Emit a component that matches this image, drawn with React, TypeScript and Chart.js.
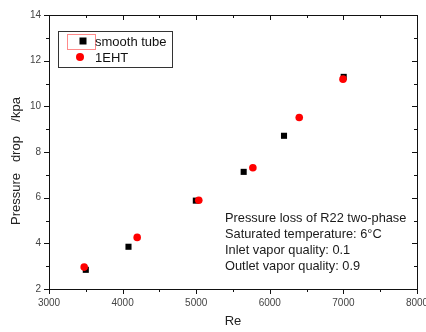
import React, { useEffect, useRef } from 'react';
import { Chart, registerables } from 'chart.js';

Chart.register(...registerables);

// ---- data ----
const seriesNames = ['smooth tube', '1EHT'];
const smoothRe = [3500, 4080, 4995, 5645, 6193, 7004];
const smoothDrop = [2.84, 3.85, 5.87, 7.13, 8.71, 11.29];
const ehtRe = [3478, 4198, 5035, 5770, 6400, 6995];
const ehtDrop = [2.96, 4.26, 5.89, 7.31, 9.51, 11.19];
const xMin = 3000;
const xMax = 8000;
const xMajor = 1000;
const xMinor = 500;
const yMin = 2;
const yMax = 14;
const yMajor = 2;
const yMinor = 1;
const xTitle = 'Re';
const yTitle = 'Pressure   drop    /kpa     ';
const noteLines = [
  'Pressure loss of R22 two-phase',
  'Saturated temperature: 6\u00B0C',
  'Inlet vapor quality: 0.1',
  'Outlet vapor quality: 0.9',
];

const FONT = '"Liberation Sans", Arial, sans-serif';

const framePlugin = {
  id: 'frameTicks',
  afterDraw(chart: any) {
    const { ctx, chartArea } = chart;
    const { left, right, top, bottom } = chartArea;
    const xs = chart.scales.x;
    const ys = chart.scales.y;
    ctx.save();
    ctx.strokeStyle = '#111';
    ctx.lineWidth = 1;
    ctx.beginPath();
    ctx.rect(Math.round(left) + 0.5, Math.round(top) + 0.5, Math.round(right - left), Math.round(bottom - top));
    ctx.stroke();
    ctx.beginPath();
    for (let v = xMin; v <= xMax + 1e-9; v += xMinor) {
      const major = Math.abs(v / xMajor - Math.round(v / xMajor)) < 1e-9;
      const px = Math.round(xs.getPixelForValue(v)) + 0.5;
      const lenOut = major ? 5 : 3;
      const lenIn = major ? 5 : 3;
      ctx.moveTo(px, bottom);
      ctx.lineTo(px, bottom + lenOut);
      ctx.moveTo(px, top);
      ctx.lineTo(px, top + lenIn);
    }
    for (let v = yMin; v <= yMax + 1e-9; v += yMinor) {
      const major = Math.abs(v / yMajor - Math.round(v / yMajor)) < 1e-9;
      const py = Math.round(ys.getPixelForValue(v)) + 0.5;
      const lenOut = major ? 5 : 3;
      const lenIn = major ? 5 : 3;
      ctx.moveTo(left, py);
      ctx.lineTo(left - lenOut, py);
      ctx.moveTo(right, py);
      ctx.lineTo(right - lenIn, py);
    }
    ctx.stroke();

    // legend
    const lx = left + 9;
    const ly = top + 16;
    ctx.strokeStyle = '#333';
    ctx.strokeRect(Math.round(lx) + 0.5, Math.round(ly) + 0.5, 114, 36);
    ctx.strokeStyle = '#ff8a8a';
    ctx.strokeRect(Math.round(lx + 9) + 0.5, Math.round(ly + 3) + 0.5, 28, 15);
    const ds = chart.data.datasets;
    const rowY = [ly + 10, ly + 26];
    ds.forEach((d: any, i: number) => {
      ctx.fillStyle = d.backgroundColor;
      const cx = lx + (i === 0 ? 25 : 22);
      if (d.pointStyle === 'rect') {
        ctx.fillRect(cx - 3.5, rowY[i] - 3.5, 7, 7);
      } else {
        ctx.beginPath();
        ctx.arc(cx, rowY[i], 4, 0, Math.PI * 2);
        ctx.fill();
      }
      ctx.fillStyle = '#111';
      ctx.font = '13px ' + FONT;
      ctx.textBaseline = 'middle';
      ctx.textAlign = 'left';
      ctx.fillText(d.label, lx + 37, rowY[i] + 1);
    });

    // note text
    ctx.fillStyle = '#1a1a1a';
    ctx.font = '12.8px ' + FONT;
    ctx.textBaseline = 'middle';
    const nx = left + 176;
    noteLines.forEach((t, i) => {
      ctx.fillText(t, nx, top + 203 + i * 16);
    });
    ctx.restore();
  },
};

export default function App() {
  const ref = useRef<HTMLCanvasElement>(null);
  useEffect(() => {
    document.body.style.margin = '0';
    const chart = new Chart(ref.current as HTMLCanvasElement, {
      type: 'scatter',
      data: {
        datasets: [
          {
            label: seriesNames[0],
            data: smoothRe.map((x, i) => ({ x, y: smoothDrop[i] })),
            backgroundColor: '#000000',
            borderColor: '#000000',
            pointStyle: 'rect',
            pointRadius: 4.3,
            borderWidth: 0,
            order: 2,
          },
          {
            label: seriesNames[1],
            data: ehtRe.map((x, i) => ({ x, y: ehtDrop[i] })),
            backgroundColor: '#ff0000',
            borderColor: '#ff0000',
            pointStyle: 'circle',
            pointRadius: 3.8,
            borderWidth: 0,
            order: 1,
          },
        ] as any,
      },
      options: {
        responsive: false,
        animation: false,
        layout: { padding: { left: 0, top: 15, right: 9, bottom: 0 } },
        plugins: {
          legend: { display: false },
          tooltip: { enabled: false },
        },
        scales: {
          x: {
            type: 'linear',
            min: xMin,
            max: xMax,
            grid: { display: false, drawTicks: false },
            border: { display: false },
            ticks: {
              stepSize: xMajor,
              color: '#444',
              font: { family: FONT, size: 10 },
              padding: 8,
              maxRotation: 0,
              autoSkip: false,
              callback: (v: any) => String(v),
            },
            title: {
              display: true,
              text: xTitle,
              color: '#222',
              font: { family: FONT, size: 13 },
              padding: { top: 0, bottom: 3 },
            },
            afterFit(s: any) {
              s.height = 43;
              s.paddingLeft = 0;
              s.paddingRight = 0;
            },
          },
          y: {
            type: 'linear',
            min: yMin,
            max: yMax,
            grid: { display: false, drawTicks: false },
            border: { display: false },
            ticks: {
              stepSize: yMajor,
              color: '#444',
              font: { family: FONT, size: 10 },
              padding: 8,
              callback: (v: any) => String(v),
            },
            title: {
              display: true,
              text: yTitle,
              color: '#222',
              font: { family: FONT, size: 13 },
              padding: { top: 9, bottom: 0 },
            },
            afterFit(s: any) {
              s.width = 49;
              s.paddingTop = 0;
              s.paddingBottom = 0;
            },
          },
        },
      } as any,
      plugins: [framePlugin],
    });
    return () => chart.destroy();
  }, []);
  return (
    <div style={{ position: 'absolute', left: 0, top: 0, width: 426, height: 332, background: '#fff' }}>
      <canvas ref={ref} width={426} height={332} />
    </div>
  );
}
